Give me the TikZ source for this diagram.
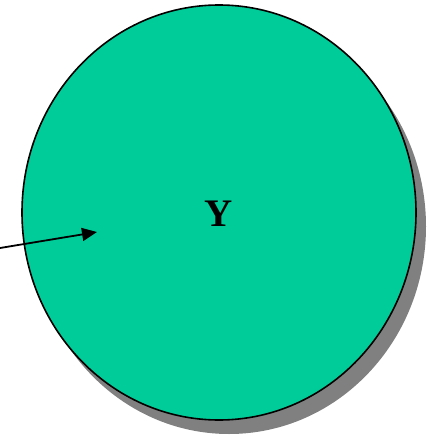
\documentclass[tikz,border=0pt]{standalone}
\usepackage{fontspec}
\setmainfont{Liberation Serif}
\usetikzlibrary{shapes.geometric,arrows.meta}
\definecolor{blobgreen}{HTML}{00CC99}
\definecolor{shadowgray}{HTML}{808080}
\tikzset{
  blob/.style={ellipse, draw=black, line width=1.6pt, fill=blobgreen, minimum width=394pt, minimum height=415pt, inner sep=0pt},
  blobshadow/.style={ellipse, fill=shadowgray, minimum width=394pt, minimum height=415pt, inner sep=0pt},
  pointer/.style={line width=1.8pt, -{Triangle[length=15pt,width=13pt]}}
}
\begin{document}
\begin{tikzpicture}[x=1pt,y=-1pt]
\useasboundingbox (0,0) rectangle (426,439);
\node[blobshadow] (sh) at (229,226.5) {};
\node[blob] (c) at (219,212.5) {};
\node[font=\bfseries\fontsize{39}{42}\selectfont] (y) at (219,214) {Y};
\coordinate (a) at (0,248);
\coordinate (b) at (97,232);
\draw[pointer] (a) -- (b);
\end{tikzpicture}
\end{document}
